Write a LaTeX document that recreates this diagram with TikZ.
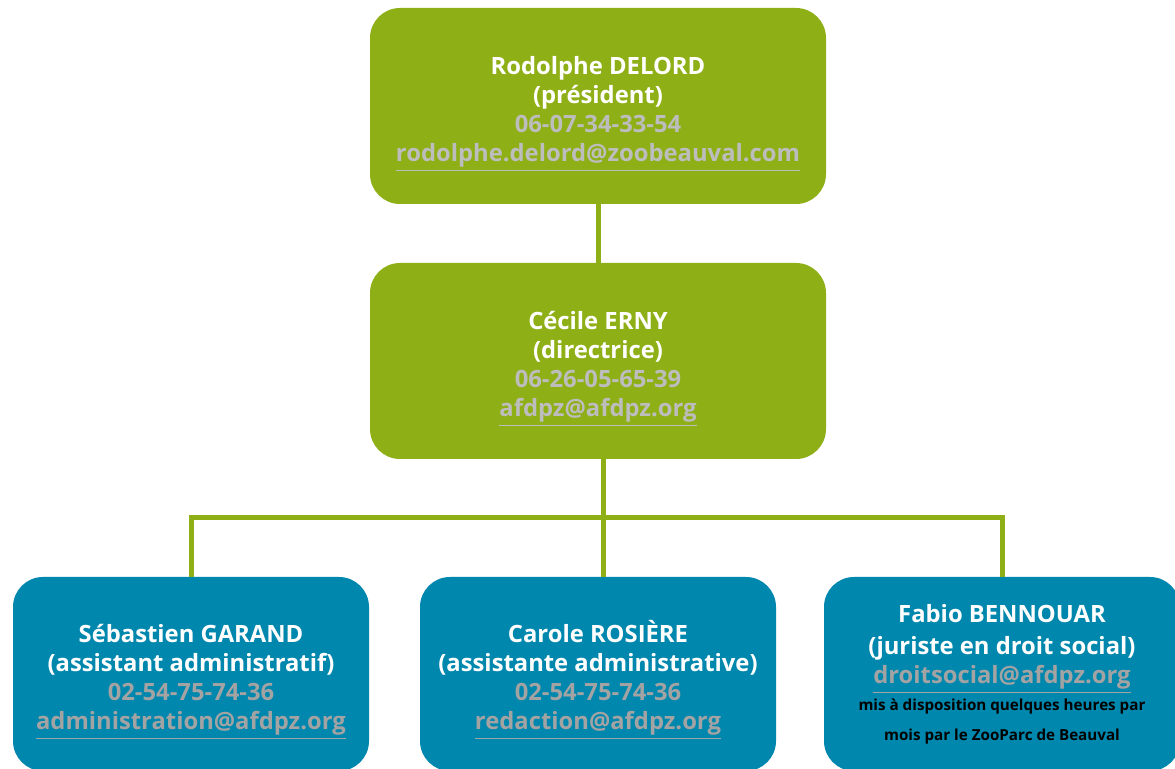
\documentclass[tikz,border=0pt]{standalone}
\usepackage{fontspec}
\setmainfont{Open Sans}
\usetikzlibrary{positioning}
\definecolor{zoogreen}{HTML}{8FAF17}
\definecolor{zooblue}{HTML}{0087AD}
\definecolor{telgrey}{HTML}{BDBDBD}
\definecolor{telgreyb}{HTML}{A3A3A3}
\newcommand{\mailto}[1]{\underline{#1}\vphantom{p}}
\newcommand{\topgap}{\rule{0pt}{17pt}}
\newcommand{\smallnote}[1]{\textcolor{black}{\fontsize{7.6}{9}\selectfont #1}}

\begin{document}
\begin{tikzpicture}[
        x=0.5pt, y=-0.5pt,
        every node/.style={
            rounded corners=15pt, align=center,
            font=\bfseries\fontsize{11.9}{14.6}\selectfont,
            text=white, inner sep=2pt
        },
        headbox/.style={fill=zoogreen, minimum width=228pt, minimum height=98pt},
        staffbox/.style={fill=zooblue, minimum width=178pt, minimum height=97pt},
        link/.style={draw=zoogreen, line width=2.5pt}
      ]
        \clip (0,0) rectangle (1175,769);
        \fill[white] (0,0) rectangle (1175,769);
        \node[headbox] (pres) at (598,106) {\topgap Rodolphe DELORD\\(président)\\
          \textcolor{telgrey}{06-07-34-33-54}\\
          \textcolor{telgrey}{\mailto{rodolphe.delord@zoobeauval.com}}};
        \node[headbox] (dir) at (598,361) {\topgap Cécile ERNY\\(directrice)\\
          \textcolor{telgrey}{06-26-05-65-39}\\
          \textcolor{telgrey}{\mailto{afdpz@afdpz.org}}};
        \node[staffbox] (adm) at (191,674) {\topgap Sébastien GARAND\\(assistant administratif)\\
          \textcolor{telgreyb}{02-54-75-74-36}\\
          \textcolor{telgreyb}{\mailto{administration@afdpz.org}}};
        \node[staffbox] (red) at (598,674) {\topgap Carole ROSIÈRE\\(assistante administrative)\\
          \textcolor{telgreyb}{02-54-75-74-36}\\
          \textcolor{telgreyb}{\mailto{redaction@afdpz.org}}};
        \node[staffbox] (jur) at (1002,674) {Fabio BENNOUAR\\[1.5pt](juriste en droit social)\\
          \textcolor{telgreyb}{\mailto{droitsocial@afdpz.org}}\\[-1pt]
          \smallnote{mis à disposition quelques heures par}\\
          \smallnote{mois par le ZooParc de Beauval}};
        % connectors
        \coordinate (bus) at (603,518);
        \draw[link] (pres) -- (dir);
        \draw[link] (bus |- dir.south) -- (bus);
        \draw[link] (adm.north) |- (jur.north |- bus) -- (jur.north);
        \draw[link] (bus) -- (bus |- red.north);
      \end{tikzpicture}
\end{document}
